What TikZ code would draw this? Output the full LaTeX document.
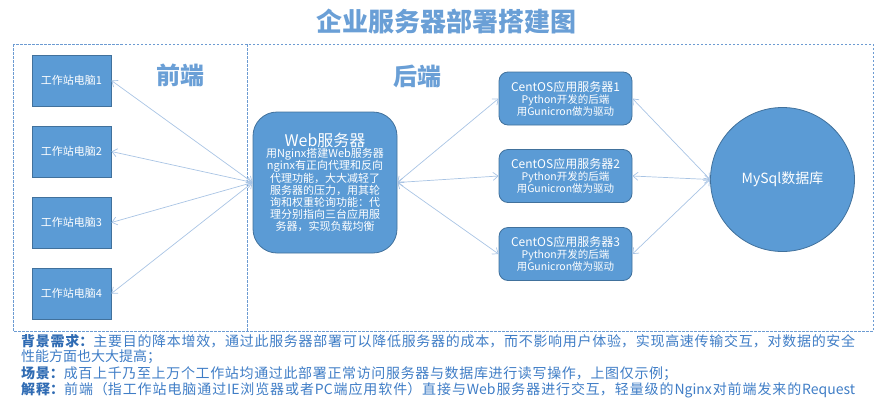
\documentclass[tikz,border=0pt]{standalone}
\usepackage{fontspec}
\setmainfont{Noto Sans CJK SC}
\usetikzlibrary{arrows.meta}
\XeTeXlinebreaklocale "zh"
\XeTeXlinebreakskip = 0pt plus 3pt
\definecolor{boxblue}{HTML}{5B9BD5}
\definecolor{boxedge}{HTML}{41719C}
\definecolor{titleblue}{HTML}{6A9FD6}
\definecolor{linkblue}{HTML}{A9C4E4}
\definecolor{frameblue}{HTML}{6C9BD2}
\definecolor{textblue}{HTML}{3F7DC6}
\definecolor{labelblue}{HTML}{2F6BB3}
\newcommand{\fsA}{\fontsize{16}{20}\selectfont}
\newcommand{\fsB}{\fontsize{11}{12.2}\selectfont}
\newcommand{\fsC}{\fontsize{12}{14}\selectfont}
\newcommand{\fsD}{\fontsize{10.5}{13}\selectfont}
\begin{document}
\begin{tikzpicture}[x=1pt,y=-1pt,
  wsbox/.style={draw=boxedge,fill=boxblue,line width=0.8pt,minimum width=79pt,minimum height=51pt,inner sep=0pt,text=white,font=\fontsize{11}{13}\selectfont},
  webbox/.style={draw=boxedge,fill=boxblue,line width=0.8pt,minimum width=144pt,minimum height=141pt,rounded corners=24pt,inner sep=0pt,text=white,align=center,font=\fsB},
  appbox/.style={draw=boxedge,fill=boxblue,line width=0.8pt,minimum width=133pt,minimum height=53pt,rounded corners=9pt,inner sep=0pt,text=white,align=center,font=\fsD},
  dbnode/.style={draw=boxedge,fill=boxblue,line width=0.8pt,circle,minimum size=144pt,inner sep=0pt,text=white,font=\fontsize{14}{16}\selectfont},
  link/.style={draw=linkblue,line width=0.7pt,{Straight Barb[length=5pt,width=8pt]}-{Straight Barb[length=5pt,width=8pt]}},
  frame/.style={draw=frameblue,line width=0.9pt,dash pattern=on 2.5pt off 1.5pt},
  sectitle/.style={text=titleblue,font=\fontsize{24}{26}\selectfont\bfseries},
  bodyline/.style={anchor=west,inner sep=0pt,text=textblue,font=\fontsize{14}{16}\selectfont}]
\useasboundingbox (0,0) rectangle (889,400);

\node[text=titleblue,font=\fontsize{26}{28}\selectfont\bfseries] (title) at (446,22) {企业服务器部署搭建图};

\draw[frame] (13,44) rectangle (873,331);
\draw[frame] (247,44) -- (247,331);

\node[sectitle] (fe) at (180,75) {前端};
\node[sectitle] (be) at (417,76) {后端};

\node[wsbox] (ws1) at (71.5,80.5) {工作站电脑1};
\node[wsbox] (ws2) at (71.5,151.5) {工作站电脑2};
\node[wsbox] (ws3) at (71.5,222.5) {工作站电脑3};
\node[wsbox] (ws4) at (71.5,293.5) {工作站电脑4};

\node[webbox] (web) at (325,182.5) {\fsA Web服务器\\[-1pt]
 \fsB 用Nginx搭建Web服务器\\ \fsB nginx有正向代理和反向\\ \fsB 代理功能，大大减轻了\\ \fsB 服务器的压力，用其轮\\ \fsB 询和权重轮询功能：代\\ \fsB 理分别指向三台应用服\\ \fsB 务器，实现负载均衡};

\node[appbox] (app1) at (565.5,98.5) {\fsC CentOS应用服务器1\\[-1pt]\fsD Python开发的后端\\[-1pt]\fsD 用Gunicron做为驱动};
\node[appbox] (app2) at (565.5,176) {\fsC CentOS应用服务器2\\[-1pt]\fsD Python开发的后端\\[-1pt]\fsD 用Gunicron做为驱动};
\node[appbox] (app3) at (565.5,254) {\fsC CentOS应用服务器3\\[-1pt]\fsD Python开发的后端\\[-1pt]\fsD 用Gunicron做为驱动};

\node[dbnode] (db) at (782.5,179.5) {MySql数据库};

\foreach \w in {ws1,ws2,ws3,ws4} \draw[link] (\w.east) -- (web.west);
\foreach \a in {app1,app2,app3} \draw[link] (web.east) -- (\a.west);
\foreach \a in {app1,app2,app3} \draw[link] (\a.east) -- (db.west);

\node[bodyline] (l1) at (21,341) {\parbox{834pt}{\parfillskip=0pt\relax\textcolor{labelblue}{\bfseries 背景需求：}主要目的降本增效，通过此服务器部署可以降低服务器的成本，而不影响用户体验，实现高速传输交互，对数据的安全\par}};
\node[bodyline] (l2) at (21,357) {性能方面也大大提高；};
\node[bodyline] (l3) at (21,373.5) {\parbox{656pt}{\parfillskip=0pt\relax\textcolor{labelblue}{\bfseries 场景：}成百上千乃至上万个工作站均通过此部署正常访问服务器与数据库进行读写操作，上图仅示例；\par}};
\node[bodyline] (l4) at (21,390) {\parbox{834pt}{\parfillskip=0pt\relax\textcolor{labelblue}{\bfseries 解释：}前端（指工作站电脑通过IE浏览器或者PC端应用软件）直接与Web服务器进行交互，轻量级的Nginx对前端发来的Request\par}};
\end{tikzpicture}
\end{document}
